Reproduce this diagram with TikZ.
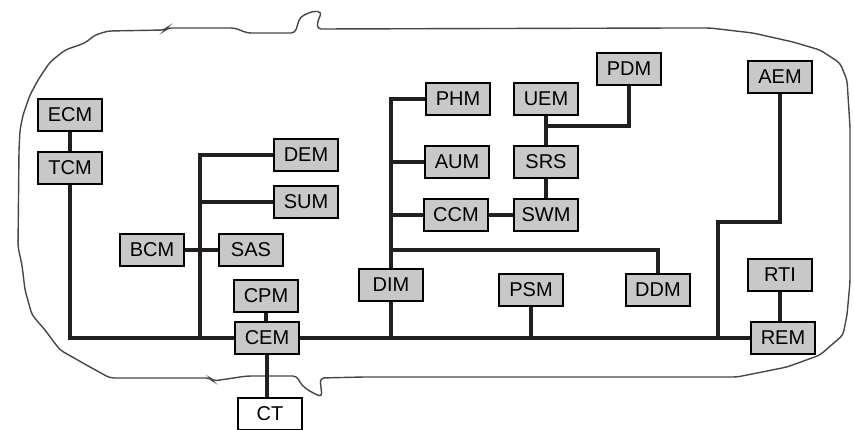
\documentclass[tikz,border=0pt]{standalone}
\usepackage{fontspec}
\setmainfont{Liberation Sans}
\usepackage{tikz}
\newdimen\unitsize
\setlength{\unitsize}{0.5pt}
\definecolor{boxgray}{RGB}{200,200,200}
\definecolor{wireblack}{RGB}{35,31,32}
\definecolor{outlinegray}{RGB}{70,70,70}

\begin{document}
\begin{tikzpicture}[x=\unitsize,y=-\unitsize]
\tikzset{module/.style={draw=black, line width=1.1pt, fill=boxgray, minimum width=32pt, minimum height=16pt, inner sep=0pt, font=\fontsize{10}{12}\selectfont}}%
\tikzset{wire/.style={draw=wireblack, line width=2pt}}%
\useasboundingbox (0,0) rectangle (854,429);
% car outline
\draw[outlinegray, line width=0.7pt, rounded corners=2pt] (19,150) -- (20,130) -- (23,115) -- (30,95) -- (38,80) -- (50,62) -- (65,50) -- (85,43) -- (95,35) -- (108,31) -- (165,30) -- (167,28) -- (235,28) -- (247,33) -- (295,33) -- (300,17) -- (313,11) -- (322,12) -- (318,20) -- (317,29) -- (678,28) -- (710,28) -- (753,33) -- (793,42) -- (820,50) -- (840,63) -- (847,80) -- (850,127) -- (850,282) -- (847,315) -- (843,335) -- (820,355) -- (787,367) -- (737,377) -- (363,377) -- (320,378) -- (322,397) -- (313,393) -- (305,388) -- (300,383) -- (297,376) -- (247,376) -- (213,381) -- (210,378) -- (110,378) -- (90,367) -- (60,350) -- (45,330) -- (32,315) -- (25,290) -- (22,265) -- (18,247) -- cycle;
% modules
\node[module] (ECM) at (70,115) {ECM};
\node[module] (TCM) at (70,168) {TCM};
\node[module] (DEM) at (306,155) {DEM};
\node[module] (SUM) at (306,202) {SUM};
\node[module] (BCM) at (152,250) {BCM};
\node[module] (SAS) at (251,250) {SAS};
\node[module] (CPM) at (266,296) {CPM};
\node[module] (CEM) at (267,338) {CEM};
\node[module, fill=white] (CT) at (270,414) {CT};
\node[module] (PHM) at (458,99) {PHM};
\node[module] (AUM) at (457,162) {AUM};
\node[module] (CCM) at (456,215) {CCM};
\node[module] (DIM) at (391,285) {DIM};
\node[module] (UEM) at (546,99) {UEM};
\node[module] (SRS) at (546,162) {SRS};
\node[module] (SWM) at (546,215) {SWM};
\node[module] (PDM) at (629,69) {PDM};
\node[module] (PSM) at (531,290) {PSM};
\node[module] (DDM) at (658,290) {DDM};
\node[module] (AEM) at (780,77) {AEM};
\node[module] (RTI) at (780,275) {RTI};
\node[module] (REM) at (783,338) {REM};
% junctions
\coordinate (jB) at (200,338);
\coordinate (jD) at (391,250);
\coordinate (jU) at (546,126);
\coordinate (jA) at (718,222);
% bus wires
\draw[wire] (ECM) -- (TCM);
\draw[wire] (TCM) |- (CEM);
\draw[wire] (CEM) -- (REM);
\draw[wire] (jB) |- (DEM);
\draw[wire] (jB |- SUM) -- (SUM);
\draw[wire] (BCM) -- (SAS);
\draw[wire] (CPM) -- (CPM |- CEM.north);
\draw[wire] (CEM) -- (CEM |- CT.north);
\draw[wire] (DIM) |- (PHM);
\draw[wire] (DIM.north |- AUM) -- (AUM);
\draw[wire] (DIM.north |- CCM) -- (CCM);
\draw[wire] (jD) -| (DDM);
\draw[wire] (DIM) -- (DIM |- CEM);
\draw[wire] (CCM) -- (SWM);
\draw[wire] (SWM) -- (SRS);
\draw[wire] (SRS) -- (UEM);
\draw[wire] (jU) -| (PDM);
\draw[wire] (PSM) -- (PSM |- CEM);
\draw[wire] (AEM) |- (jA) -- (jA |- REM);
\draw[wire] (RTI) -- (RTI |- REM.north);
\end{tikzpicture}
\end{document}
